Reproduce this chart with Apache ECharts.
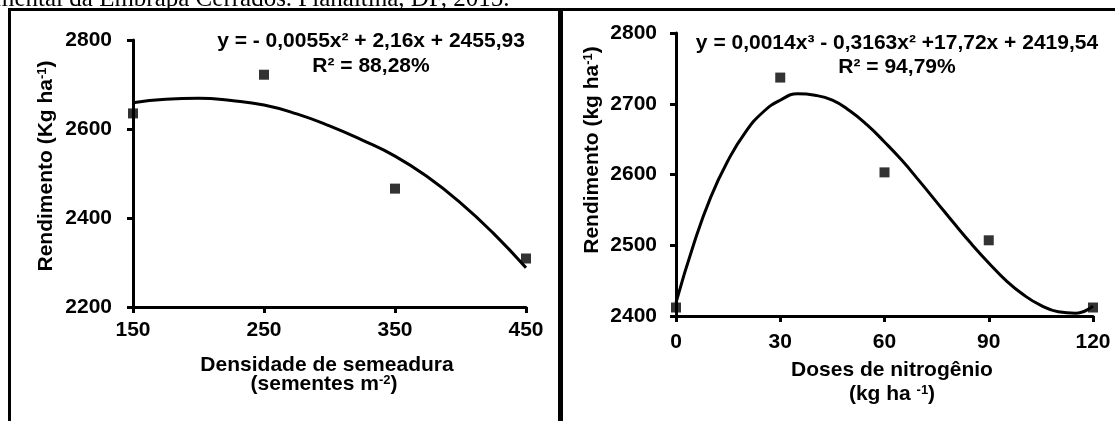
<!DOCTYPE html>
<html>
<head>
<meta charset="utf-8">
<script src="https://cdn.jsdelivr.net/npm/echarts@6/dist/echarts.min.js"></script>
<style>
html,body{margin:0;padding:0;background:#fff;}
#c{width:1115px;height:421px;}
</style>
</head>
<body>
<div id="c"></div>
<script>
// ---- Data ----
// Left panel: seeding density
const densityX = [150, 250, 350, 450];
const densityY = [2635, 2722, 2466, 2309];
const densityFitX = [150, 175, 200, 225, 250, 275, 300, 325, 350, 375, 400, 425, 450];
const densityFitY = [2659, 2667, 2669, 2664, 2654, 2634, 2607, 2575, 2539, 2492, 2434, 2366, 2288];
const densityXTicks = [150, 250, 350, 450];
const densityYTicks = [2200, 2400, 2600, 2800];
const densityEq = 'y = - 0,0055x² + 2,16x + 2455,93';
const densityR2 = 'R² = 88,28%';

// Right panel: nitrogen doses
const nitroX = [0, 30, 60, 90, 120];
const nitroY = [2412, 2737, 2603, 2507, 2412];
const nitroFitX = [0, 5, 10, 15, 20, 25, 30, 35, 40, 45, 50, 55, 60, 65, 70, 75, 80, 85, 90, 95, 100, 105, 110, 115, 120];
const nitroFitY = [2419, 2500, 2568, 2620, 2660, 2688, 2705, 2714, 2712, 2705, 2690, 2670, 2646, 2620, 2591, 2561, 2531, 2502, 2475, 2450, 2430, 2415, 2406, 2404, 2414];
const nitroXTicks = [0, 30, 60, 90, 120];
const nitroYTicks = [2400, 2500, 2600, 2700, 2800];
const nitroEq = 'y = 0,0014x³ - 0,3163x² +17,72x + 2419,54';
const nitroR2 = 'R² = 94,79%';

const topCaption = 'mental da Embrapa Cerrados. Planaltina, DF, 2015.';

// ---- Chart ----
const FF = '"Liberation Sans", Arial, Helvetica, sans-serif';
const BOLD = 'bold 21px ' + FF;
const zip = (a, b) => a.map((v, i) => [v, b[i]]);

function axis(idx, ticks, margin) {
  return {
    type: 'value', gridIndex: idx,
    min: ticks[0], max: ticks[ticks.length - 1], interval: ticks[1] - ticks[0],
    axisLine: {show: true, lineStyle: {color: '#000', width: 3}},
    axisTick: {show: true, inside: false, length: 6, lineStyle: {color: '#000', width: 3}},
    axisLabel: {color: '#000', fontSize: 21, fontWeight: 'bold', fontFamily: FF, margin: margin,
                formatter: v => String(v)},
    splitLine: {show: false}
  };
}
function txt(x, y, text, font, align) {
  return {
    type: 'text', x: x, y: y, z: 10,
    style: {text: text, font: font || BOLD, fill: '#000', align: align || 'center', verticalAlign: 'middle'}
  };
}
const richBase = {
  a: {fontSize: 21, fontWeight: 'bold', fontFamily: FF, fill: '#000'},
  s: {fontSize: 13, fontWeight: 'bold', fontFamily: FF, fill: '#000', verticalAlign: 'top'}
};
function richTxt(x, y, text, rot) {
  return {
    type: 'text', x: x, y: y, rotation: rot || 0, z: 10,
    style: {text: text, rich: richBase, fill: '#000', align: 'center', verticalAlign: 'middle',
            fontSize: 21, fontWeight: 'bold', fontFamily: FF}
  };
}

const chart = echarts.init(document.getElementById('c'), null, {renderer: 'canvas'});
chart.setOption({
  backgroundColor: '#fff',
  animation: false,
  grid: [
    {left: 133, top: 40, width: 393, height: 267},
    {left: 676, top: 33, width: 417, height: 283}
  ],
  xAxis: [axis(0, densityXTicks, 13), axis(1, nitroXTicks, 16)],
  yAxis: [axis(0, densityYTicks, 21), axis(1, nitroYTicks, 19)],
  series: [
    {type: 'line', xAxisIndex: 0, yAxisIndex: 0, data: zip(densityFitX, densityFitY),
     smooth: true, showSymbol: false, lineStyle: {color: '#000', width: 3}, z: 3},
    {type: 'scatter', xAxisIndex: 0, yAxisIndex: 0, data: zip(densityX, densityY),
     symbol: 'rect', symbolSize: 10, itemStyle: {color: '#000'}, clip: false, z: 4},
    {type: 'line', xAxisIndex: 1, yAxisIndex: 1, data: zip(nitroFitX, nitroFitY),
     smooth: true, showSymbol: false, lineStyle: {color: '#000', width: 3}, z: 3},
    {type: 'scatter', xAxisIndex: 1, yAxisIndex: 1, data: zip(nitroX, nitroY),
     symbol: 'rect', symbolSize: 10, itemStyle: {color: '#000'}, clip: false, z: 4}
  ],
  graphic: [
    // frame lines
    {type: 'line', shape: {x1: 8, y1: 9.5, x2: 1115, y2: 9.5}, style: {stroke: '#000', lineWidth: 3}},
    {type: 'line', shape: {x1: 9.5, y1: 8, x2: 9.5, y2: 421}, style: {stroke: '#000', lineWidth: 3}},
    {type: 'line', shape: {x1: 560.5, y1: 8, x2: 560.5, y2: 421}, style: {stroke: '#000', lineWidth: 5}},
    // clipped caption at the very top
    txt(-5, -1, topCaption, '25px "Liberation Serif", "Times New Roman", serif', 'left'),
    // equations
    txt(371, 41, densityEq),
    txt(371, 66, densityR2),
    txt(897, 43.5, nitroEq),
    txt(897, 67, nitroR2),
    // axis names
    richTxt(46, 166, '{a|Rendimento (Kg ha}{s|-1}{a|)}', Math.PI / 2),
    richTxt(592, 150, '{a|Rendimento (kg ha}{s|-1}{a|)}', Math.PI / 2),
    txt(327, 365, 'Densidade de semeadura'),
    richTxt(324, 384, '{a|(sementes m}{s|-2}{a|)}'),
    txt(892, 370, 'Doses de nitrogênio'),
    richTxt(892, 394, '{a|(kg ha }{s|-1}{a|)}')
  ]
});
</script>
</body>
</html>
